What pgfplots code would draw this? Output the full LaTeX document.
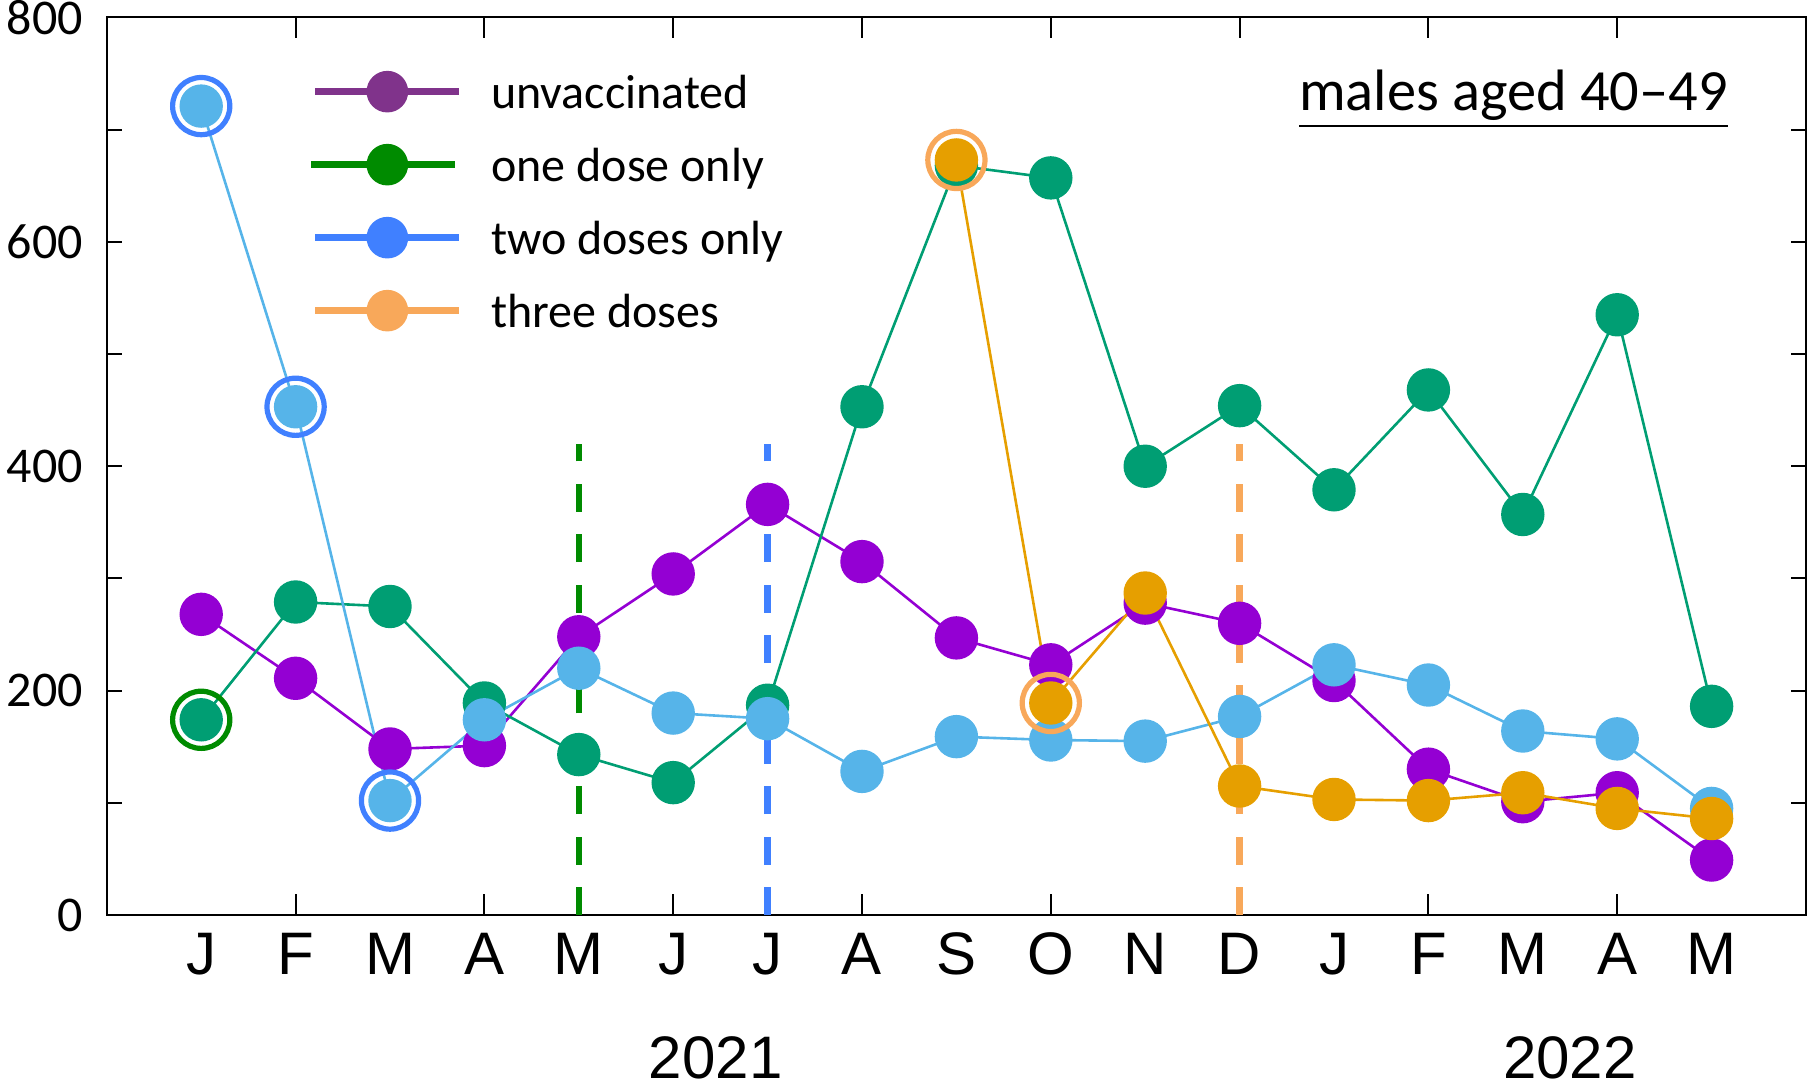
\documentclass[border=0pt]{standalone}
\usepackage{pgfplots}
\pgfplotsset{compat=1.18}
\usepackage{fontspec}
\setmainfont{Carlito}
\newfontfamily\xfont{Liberation Sans}
\definecolor{cUn}{HTML}{9400D3}
\definecolor{cOne}{HTML}{009E73}
\definecolor{cTwo}{HTML}{56B4E9}
\definecolor{cThree}{HTML}{E69F00}
\definecolor{lUn}{HTML}{80338B}
\definecolor{lOne}{HTML}{008B00}
\definecolor{lTwo}{HTML}{4080FF}
\definecolor{lThree}{HTML}{F8A85A}
\begin{document}
\begin{tikzpicture}
\path[use as bounding box] (-26.7pt,-42.8pt) rectangle (427.8pt,228.75pt);
\begin{axis}[
  at={(0,0)}, anchor=south west, scale only axis,
  width=424.8pt, height=224.4pt,
  xmin=-1, xmax=17, ymin=0, ymax=800,
  clip=false,
  axis line style={line width=0.5pt},
  major tick length=3.75pt,
  minor tick length=5.2pt,
  tick style={black, line width=0.5pt},
  xtick={0,1,...,16},
  xticklabels={J,F,M,A,M,J,J,A,S,O,N,D,J,F,M,A,M},
  x tick style={/pgfplots/major tick length=0pt},
  minor xtick={1,3,...,15},
  xticklabel style={font=\xfont\fontsize{15}{16}\selectfont, anchor=base, inner sep=0pt, yshift=-14.8pt},
  ytick={0,100,...,800},
  yticklabels={0,,200,,400,,600,,800},
  yticklabel style={font=\fontsize{12.5}{13}\selectfont, inner sep=0pt, xshift=-5.8pt},
  tick align=inside,
  legend style={at={(axis description cs:0.1185,0.9405)}, anchor=north west,
    draw=none, fill=none, inner sep=0pt, outer sep=0pt,
    font=\fontsize{12}{13}\selectfont,
    nodes={inner sep=0pt, text height=9pt, text depth=3pt},
    row sep=5.85pt,
    /tikz/every odd column/.append style={column sep=7.2pt}},
  legend cell align=left,
]
\addlegendimage{legend image code/.code={\draw[lUn, line width=1.6pt] (0pt,1.2pt) -- (36pt,1.2pt); \fill[lUn] (18pt,1.2pt) circle (5pt);}}
\addlegendentry{unvaccinated}
\addlegendimage{legend image code/.code={\draw[lOne, line width=1.6pt] (-1pt,1.2pt) -- (35pt,1.2pt); \fill[lOne] (18pt,1.2pt) circle (5pt);}}
\addlegendentry{one dose only}
\addlegendimage{legend image code/.code={\draw[lTwo, line width=1.6pt] (0pt,1.2pt) -- (36pt,1.2pt); \fill[lTwo] (18pt,1.2pt) circle (5pt);}}
\addlegendentry{two doses only}
\addlegendimage{legend image code/.code={\draw[lThree, line width=1.6pt] (0pt,1.2pt) -- (36pt,1.2pt); \fill[lThree] (18pt,1.2pt) circle (5pt);}}
\addlegendentry{three doses}

% dashed vertical markers
\addplot[forget plot, lOne, line width=1.6pt, dash pattern=on 7pt off 5.6pt] coordinates {(4,0) (4,420)};
\addplot[forget plot, lTwo, line width=1.6pt, dash pattern=on 7pt off 5.6pt] coordinates {(6,0) (6,420)};
\addplot[forget plot, lThree, line width=1.6pt, dash pattern=on 7pt off 5.6pt] coordinates {(11,0) (11,420)};

% unvaccinated
\addplot[forget plot, cUn, line width=0.65pt, mark=*, mark size=5.1pt, mark options={draw=none, fill=cUn}] coordinates {
(0,268) (1,211) (2,148) (3,151) (4,248) (5,304) (6,366) (7,315) (8,247)
(9,223) (10,278) (11,260) (12,209) (13,130) (14,101) (15,109) (16,49)};
% one dose
\addplot[forget plot, cOne, line width=0.65pt, mark=*, mark size=5.1pt, mark options={draw=none, fill=cOne}] coordinates {
(0,174) (1,279) (2,275) (3,189) (4,143) (5,118) (6,187) (7,453) (8,668)
(9,657) (10,400) (11,454) (12,379) (13,468) (14,357) (15,535) (16,186)};
% two doses
\addplot[forget plot, cTwo, line width=0.65pt, mark=*, mark size=5.1pt, mark options={draw=none, fill=cTwo}] coordinates {
(0,721) (1,453) (2,102) (3,174) (4,220) (5,180) (6,175) (7,128) (8,159)
(9,156) (10,155) (11,177) (12,223) (13,205) (14,164) (15,157) (16,95)};
% three doses
\addplot[forget plot, cThree, line width=0.65pt, mark=*, mark size=5.1pt, mark options={draw=none, fill=cThree}] coordinates {
(8,673) (9,189) (10,287) (11,115) (12,103) (13,102) (14,109) (15,95) (16,86)};

% rings
\addplot[forget plot, only marks, mark=o, mark size=7.15pt, mark options={draw=lTwo, line width=1.3pt, fill=none}] coordinates {(0,721) (1,453) (2,102)};
\addplot[forget plot, only marks, mark=o, mark size=7.15pt, mark options={draw=lOne, line width=1.3pt, fill=none}] coordinates {(0,174)};
\addplot[forget plot, only marks, mark=o, mark size=7.15pt, mark options={draw=lThree, line width=1.3pt, fill=none}] coordinates {(8,673) (9,189)};

\node[anchor=base, font=\fontsize{14.6}{15}\selectfont] at (axis cs:13.9,717) {\underline{males aged 40--49}};
\node[anchor=base, font=\xfont\fontsize{15}{16}\selectfont] at (axis cs:5.45,0) [yshift=-40.8pt] {2021};
\node[anchor=base, font=\xfont\fontsize{15}{16}\selectfont] at (axis cs:14.5,0) [yshift=-40.8pt] {2022};
\end{axis}
\end{tikzpicture}
\end{document}
